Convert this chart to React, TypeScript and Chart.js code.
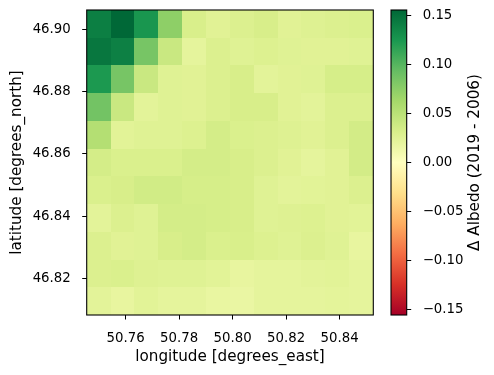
import React, { useEffect, useRef } from 'react';
import { Chart, registerables } from 'chart.js';

Chart.register(...registerables);

// Cell centres
const lonCenters = [50.7499, 50.7588, 50.7677, 50.7766, 50.7856, 50.7945, 50.8034, 50.8124, 50.8213, 50.8302, 50.8391, 50.8481];
// top (north) to bottom (south)
const latCenters = [46.9017, 46.8928, 46.8839, 46.8750, 46.8661, 46.8572, 46.8483, 46.8394, 46.8305, 46.8216, 46.8127];

// Δ Albedo (2019 - 2006), rows follow latCenters, columns follow lonCenters
const albedoDiff = [
  [0.141, 0.1558, 0.126, 0.074, 0.031, 0.025, 0.029, 0.032, 0.025, 0.027, 0.029, 0.030],
  [0.146, 0.140, 0.085, 0.041, 0.021, 0.029, 0.026, 0.028, 0.026, 0.025, 0.025, 0.026],
  [0.124, 0.085, 0.041, 0.026, 0.025, 0.029, 0.032, 0.023, 0.025, 0.026, 0.033, 0.033],
  [0.087, 0.041, 0.023, 0.026, 0.025, 0.029, 0.032, 0.032, 0.025, 0.023, 0.029, 0.029],
  [0.054, 0.024, 0.026, 0.026, 0.028, 0.034, 0.030, 0.029, 0.027, 0.025, 0.029, 0.035],
  [0.034, 0.030, 0.030, 0.030, 0.034, 0.034, 0.032, 0.029, 0.025, 0.021, 0.025, 0.035],
  [0.030, 0.032, 0.036, 0.036, 0.033, 0.033, 0.032, 0.026, 0.023, 0.024, 0.025, 0.029],
  [0.023, 0.029, 0.026, 0.034, 0.034, 0.033, 0.032, 0.026, 0.027, 0.028, 0.025, 0.024],
  [0.029, 0.025, 0.026, 0.032, 0.034, 0.030, 0.031, 0.028, 0.026, 0.029, 0.026, 0.019],
  [0.029, 0.030, 0.027, 0.026, 0.026, 0.024, 0.019, 0.021, 0.021, 0.023, 0.024, 0.021],
  [0.023, 0.019, 0.024, 0.021, 0.021, 0.018, 0.017, 0.021, 0.021, 0.021, 0.022, 0.021],
];

const xTicks = [50.76, 50.78, 50.8, 50.82, 50.84];
const yTicks = [46.82, 46.84, 46.86, 46.88, 46.9];
const cbTicks = [-0.15, -0.1, -0.05, 0, 0.05, 0.1, 0.15];
const vmin = -0.1558;
const vmax = 0.1558;

const xLabel = 'longitude [degrees_east]';
const yLabel = 'latitude [degrees_north]';
const cbLabel = 'Δ Albedo (2019 - 2006)';

const rdylgn = ['#a50026', '#d73027', '#f46d43', '#fdae61', '#fee08b', '#ffffbf', '#d9ef8b', '#a6d96a', '#66bd63', '#1a9850', '#006837'];

const FONT = 'DejaVu Sans';
const TICK_SIZE = 13.3;
const LABEL_SIZE = 15.2;

function hexToRgb(h: string) {
  return [parseInt(h.slice(1, 3), 16), parseInt(h.slice(3, 5), 16), parseInt(h.slice(5, 7), 16)];
}

function colorFor(v: number) {
  let t = (v - vmin) / (vmax - vmin);
  t = Math.max(0, Math.min(1, t));
  const pos = t * (rdylgn.length - 1);
  const i = Math.min(rdylgn.length - 2, Math.floor(pos));
  const f = pos - i;
  const a = hexToRgb(rdylgn[i]);
  const b = hexToRgb(rdylgn[i + 1]);
  const c = a.map((av, k) => Math.round(av + (b[k] - av) * f));
  return `rgb(${c[0]},${c[1]},${c[2]})`;
}

function edgesFrom(centers: number[]) {
  const e: number[] = [];
  e.push(centers[0] - (centers[1] - centers[0]) / 2);
  for (let i = 0; i < centers.length - 1; i++) e.push((centers[i] + centers[i + 1]) / 2);
  const n = centers.length;
  e.push(centers[n - 1] + (centers[n - 1] - centers[n - 2]) / 2);
  return e;
}

const lonEdges = edgesFrom(lonCenters);
const latEdges = edgesFrom(latCenters);

const fmtMinus = (v: number) => {
  const s = Math.abs(v) < 1e-9 ? '0.00' : v.toFixed(2);
  return s.replace('-', '\u2212');
};

const noPad = (s: any) => {
  s.paddingTop = 0;
  s.paddingBottom = 0;
  s.paddingLeft = 0;
  s.paddingRight = 0;
};

export default function App() {
  const mainRef = useRef<HTMLCanvasElement>(null);
  const cbRef = useRef<HTMLCanvasElement>(null);

  useEffect(() => {
    const heatPlugin = {
      id: 'heat',
      beforeDatasetsDraw(chart: any) {
        const { ctx, scales } = chart;
        const xs = scales.x;
        const ys = scales.y;
        ctx.save();
        for (let r = 0; r < latCenters.length; r++) {
          for (let c = 0; c < lonCenters.length; c++) {
            const x0 = Math.round(xs.getPixelForValue(lonEdges[c]));
            const x1 = Math.round(xs.getPixelForValue(lonEdges[c + 1]));
            const y0 = Math.round(ys.getPixelForValue(latEdges[r]));
            const y1 = Math.round(ys.getPixelForValue(latEdges[r + 1]));
            ctx.fillStyle = colorFor(albedoDiff[r][c]);
            ctx.fillRect(Math.min(x0, x1), Math.min(y0, y1), Math.abs(x1 - x0), Math.abs(y1 - y0));
          }
        }
        ctx.restore();
      },
      afterDraw(chart: any) {
        const { ctx, chartArea } = chart;
        ctx.save();
        ctx.strokeStyle = '#000';
        ctx.lineWidth = 1.1;
        ctx.strokeRect(chartArea.left, chartArea.top, chartArea.right - chartArea.left, chartArea.bottom - chartArea.top);
        ctx.restore();
      },
    };

    const points: { x: number; y: number }[] = [];
    latCenters.forEach((la) => lonCenters.forEach((lo) => points.push({ x: lo, y: la })));

    const main = new Chart(mainRef.current as HTMLCanvasElement, {
      type: 'scatter',
      data: { datasets: [{ data: points, pointRadius: 0, pointHoverRadius: 0 }] },
      options: {
        animation: false,
        responsive: false,
        events: [],
        layout: { padding: { top: 10, right: 6.7, left: 0, bottom: 0 } },
        plugins: { legend: { display: false }, tooltip: { enabled: false } },
        scales: {
          x: {
            type: 'linear',
            min: lonEdges[0],
            max: lonEdges[lonEdges.length - 1],
            afterBuildTicks: (s: any) => { s.ticks = xTicks.map((v) => ({ value: v })); },
            afterFit: (s: any) => { s.height = 60; noPad(s); },
            ticks: { color: '#000', font: { family: FONT, size: TICK_SIZE }, padding: 11, maxRotation: 0, autoSkip: false, callback: (v: any) => Number(v).toFixed(2) },
            grid: { drawOnChartArea: false, drawTicks: true, tickLength: 4.5, tickColor: '#000', tickWidth: 1 },
            border: { display: false },
            title: { display: true, text: xLabel, color: '#000', font: { family: FONT, size: LABEL_SIZE }, padding: { top: 0, bottom: 9 } },
          },
          y: {
            type: 'linear',
            min: latEdges[latEdges.length - 1],
            max: latEdges[0],
            afterBuildTicks: (s: any) => { s.ticks = yTicks.map((v) => ({ value: v })); },
            afterFit: (s: any) => { s.width = 86.7; noPad(s); },
            ticks: { color: '#000', font: { family: FONT, size: TICK_SIZE }, padding: 11.5, autoSkip: false, callback: (v: any) => Number(v).toFixed(2) },
            grid: { drawOnChartArea: false, drawTicks: true, tickLength: 4.5, tickColor: '#000', tickWidth: 1 },
            border: { display: false },
            title: { display: true, text: yLabel, color: '#000', font: { family: FONT, size: LABEL_SIZE }, padding: { top: 7.5, bottom: 0 } },
          },
        },
      },
      plugins: [heatPlugin],
    } as any);

    const cbPlugin = {
      id: 'cbar',
      beforeDatasetsDraw(chart: any) {
        const { ctx, chartArea, scales } = chart;
        const ys = scales.y;
        const yTop = ys.getPixelForValue(vmax);
        const yBot = ys.getPixelForValue(vmin);
        const g = ctx.createLinearGradient(0, yBot, 0, yTop);
        rdylgn.forEach((c, i) => g.addColorStop(i / (rdylgn.length - 1), c));
        ctx.save();
        ctx.fillStyle = g;
        ctx.fillRect(chartArea.left, yTop, chartArea.right - chartArea.left, yBot - yTop);
        ctx.restore();
      },
      afterDraw(chart: any) {
        const { ctx, chartArea } = chart;
        ctx.save();
        ctx.strokeStyle = '#000';
        ctx.lineWidth = 1.1;
        ctx.strokeRect(chartArea.left, chartArea.top, chartArea.right - chartArea.left, chartArea.bottom - chartArea.top);
        ctx.translate(95, (chartArea.top + chartArea.bottom) / 2);
        ctx.rotate(-Math.PI / 2);
        ctx.fillStyle = '#000';
        ctx.font = `${LABEL_SIZE}px "${FONT}"`;
        ctx.textAlign = 'center';
        ctx.textBaseline = 'middle';
        ctx.fillText(cbLabel, 0, 0);
        ctx.restore();
      },
    };

    const cb = new Chart(cbRef.current as HTMLCanvasElement, {
      type: 'scatter',
      data: { datasets: [{ data: cbTicks.map((v) => ({ x: 0, y: v })), pointRadius: 0, pointHoverRadius: 0 }] },
      options: {
        animation: false,
        responsive: false,
        events: [],
        layout: { padding: { top: 10, right: 0, left: 11, bottom: 60 } },
        plugins: { legend: { display: false }, tooltip: { enabled: false } },
        scales: {
          x: { display: false, min: 0, max: 1 },
          y: {
            type: 'linear',
            position: 'right',
            min: vmin,
            max: vmax,
            afterBuildTicks: (s: any) => { s.ticks = cbTicks.map((v) => ({ value: v })); },
            afterFit: (s: any) => { s.width = 87.3; noPad(s); },
            ticks: { color: '#000', font: { family: FONT, size: TICK_SIZE }, padding: 11.5, autoSkip: false, callback: (v: any) => fmtMinus(Number(v)) },
            grid: { drawOnChartArea: false, drawTicks: true, tickLength: 4.5, tickColor: '#000', tickWidth: 1 },
            border: { display: false },
          },
        },
      },
      plugins: [cbPlugin],
    } as any);

    return () => {
      main.destroy();
      cb.destroy();
    };
  }, []);

  return (
    <div style={{ position: 'absolute', left: 0, top: 0, width: 494, height: 375, background: '#fff' }}>
      <canvas ref={mainRef} width={380} height={375} style={{ position: 'absolute', left: 0, top: 0, width: 380, height: 375 }} />
      <canvas ref={cbRef} width={114} height={375} style={{ position: 'absolute', left: 380, top: 0, width: 114, height: 375 }} />
    </div>
  );
}
